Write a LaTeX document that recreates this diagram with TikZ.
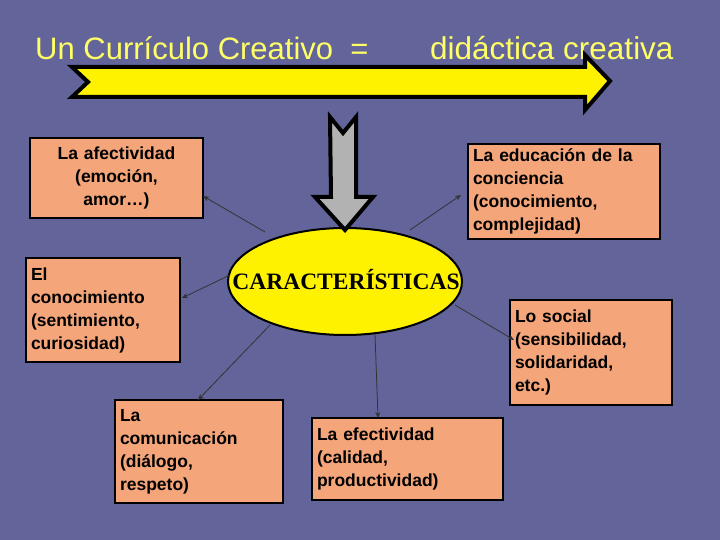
\documentclass[tikz,border=0pt]{standalone}
\usepackage{fontspec}
\setmainfont{Liberation Sans}
\newfontfamily\serifb{Liberation Serif}
\usetikzlibrary{shapes.geometric,arrows.meta}
\definecolor{bg}{HTML}{62649A}
\definecolor{salmon}{HTML}{F4A57A}
\definecolor{ttl}{HTML}{FFFF66}
\begin{document}
\begin{tikzpicture}[x=1pt,y=-1pt,
 box/.style={draw=black,line width=2pt,fill=salmon,inner xsep=5pt,inner ysep=0pt,font=\bfseries\fontsize{17.5}{23}\selectfont,anchor=center,align=left},
 con/.style={draw=black!80,line width=0.8pt,-{Stealth[length=6pt,width=5pt]}}]
\fill[bg] (0,0) rectangle (720,540);
\useasboundingbox (0,0) rectangle (720,540);
\node[text=ttl,font=\fontsize{31}{34}\selectfont,anchor=west,inner sep=0pt] (t1) at (35,48) {Un Currículo Creativo \ =};
\node[text=ttl,font=\fontsize{31.5}{34}\selectfont,anchor=west,inner sep=0pt] (t2) at (430,48) {didáctica creativa};
% top arrow
\draw[line width=4pt,fill=yellow,line join=miter] (72,67) -- (585,67) -- (585,55) -- (610,81) -- (585,110) -- (585,97) -- (72,97) -- (88,82) -- cycle;
% ellipse
\draw[line width=2pt,fill=yellow] (345,281.5) ellipse [x radius=117pt, y radius=53.5pt];
\node[font=\serifb\bfseries\fontsize{23.5}{26}\selectfont,inner sep=0pt] (c) at (346,280) {CARACTERÍSTICAS};
% down arrow
\draw[line width=4pt,fill=black!30,line join=miter] (330,117) -- (343,133) -- (356,117) -- (356,197) -- (373,197) -- (345,230) -- (315,197) -- (331,197) -- cycle;
% boxes
\node[box,minimum height=80pt,text width=163pt,align=center] (b1) at (116.5,178) {La afectividad\\(emoción,\\amor…)};
\node[box,minimum height=95pt,text width=182pt] (b2) at (564,191.5) {La educación de la\\conciencia\\(conocimiento,\\complejidad)};
\node[box,minimum height=104pt,text width=144pt] (b3) at (103,310) {El\\conocimiento\\(sentimiento,\\curiosidad)};
\node[box,minimum height=105pt,text width=152pt] (b4) at (591,352.5) {Lo social\\(sensibilidad,\\solidaridad,\\etc.)};
\node[box,minimum height=103pt,text width=158pt] (b5) at (199,451.5) {La\\comunicación\\(diálogo,\\respeto)};
\node[box,minimum height=82pt,text width=181pt] (b6) at (407.5,459) {La efectividad\\(calidad,\\productividad)};
% connectors
\coordinate (e1) at (265,232); \coordinate (e2) at (410,230);
\coordinate (e3) at (230,275); \coordinate (e4) at (455,305);
\coordinate (e5) at (270,325); \coordinate (e6) at (375,334);
\draw[con] (e1) -- (203,196);
\draw[con] (e2) -- (461,195);
\draw[con] (e3) -- (182,298);
\draw[con] (e4) -- (514,340);
\draw[con] (e5) -- (198,400);
\draw[con] (e6) -- (378,418);
\end{tikzpicture}
\end{document}
